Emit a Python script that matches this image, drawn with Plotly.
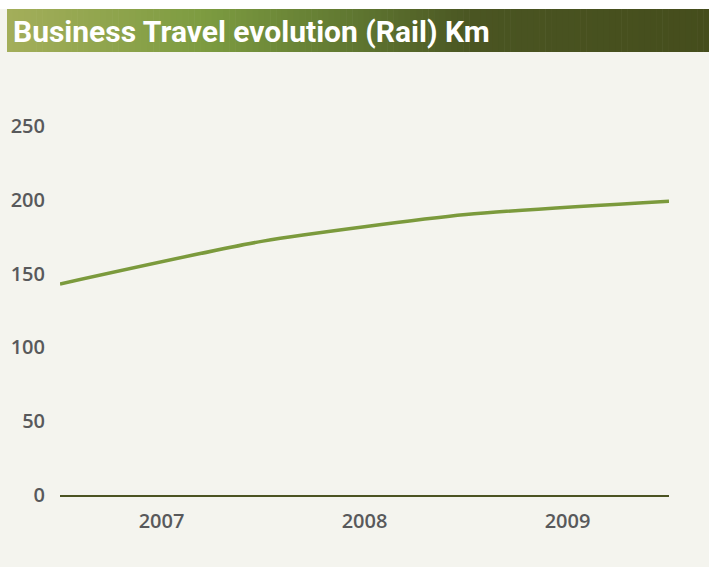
import plotly.graph_objects as go

# Rail kilometres (thousands), sampled at the period boundaries
period_edges = [2006.5, 2007.5, 2008.5, 2009.5]
rail_km = [143, 172, 190, 199]

years = [2007, 2008, 2009]
year_labels = ["2007", "2008", "2009"]
y_ticks = [0, 50, 100, 150, 200, 250]

W, H = 709, 567
ML, MR, MT, MB = 60, 40, 126, 72
plot_w = W - ML - MR
plot_h = H - MT - MB

BG = "#f4f4ee"
LINE = "#7b9a3c"
AXIS = "#4b5322"
TEXT = "#58595b"


def px_x(px):
    return (px - ML) / plot_w


def px_y(py):
    return (H - MB - py) / plot_h


def lerp_colour(stops, t):
    for (t0, c0), (t1, c1) in zip(stops, stops[1:]):
        if t0 <= t <= t1:
            f = (t - t0) / (t1 - t0) if t1 > t0 else 0
            rgb = [round(a + (b - a) * f) for a, b in zip(c0, c1)]
            return "rgb(%d,%d,%d)" % tuple(rgb)
    return "rgb(%d,%d,%d)" % stops[-1][1]


shapes = []
# white strip across the top
shapes.append(dict(type="rect", xref="paper", yref="paper",
                   x0=px_x(0), x1=px_x(W), y0=px_y(9), y1=px_y(0),
                   fillcolor="#ffffff", line_width=0, layer="below"))

# title banner with horizontal gradient
stops = [(0.0, (163, 174, 90)), (0.28, (124, 155, 64)), (0.5, (94, 117, 48)),
         (0.66, (74, 85, 34)), (1.0, (69, 77, 28))]
x_start, x_end = 7, W
n = 120
for i in range(n):
    a = x_start + (x_end - x_start) * i / n
    b = x_start + (x_end - x_start) * (i + 1) / n
    shapes.append(dict(type="rect", xref="paper", yref="paper",
                       x0=px_x(a), x1=px_x(b + 0.6), y0=px_y(52), y1=px_y(9),
                       fillcolor=lerp_colour(stops, i / n), line_width=0,
                       layer="below"))

fig = go.Figure()
fig.add_trace(go.Scatter(
    x=period_edges, y=rail_km, mode="lines",
    line=dict(color=LINE, width=3.5, shape="spline", smoothing=0.6),
    cliponaxis=False, hoverinfo="skip", showlegend=False))

fig.update_layout(
    width=W, height=H,
    margin=dict(l=ML, r=MR, t=MT, b=MB, pad=0),
    paper_bgcolor=BG, plot_bgcolor=BG,
    shapes=shapes,
    annotations=[dict(
        text="Business Travel evolution (Rail) Km", xref="paper", yref="paper",
        x=px_x(11), y=px_y(31), xanchor="left", yanchor="middle",
        showarrow=False,
        font=dict(family="Roboto", size=30, color="#ffffff", weight=700))],
    xaxis=dict(range=[2006.5, 2009.5], tickvals=years, ticktext=year_labels,
               showgrid=False, zeroline=False, showline=True,
               linecolor=AXIS, linewidth=2, ticks="",
               tickfont=dict(family="Open Sans", size=20, color=TEXT, weight=600),
               ticklabelstandoff=7),
    yaxis=dict(range=[0, 250], tickvals=y_ticks, showgrid=False,
               zeroline=False, showline=False, ticks="",
               tickfont=dict(family="Open Sans", size=20, color=TEXT, weight=600),
               ticklabelstandoff=14),
)

fig.write_html("out.html")
